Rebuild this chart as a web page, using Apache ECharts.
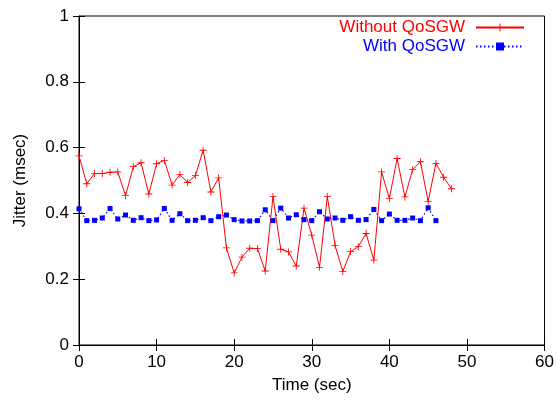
<!DOCTYPE html>
<html>
<head>
<meta charset="utf-8">
<script src="https://cdn.jsdelivr.net/npm/echarts@6/dist/echarts.min.js"></script>
<style>
  html, body { margin: 0; padding: 0; background: #fff; }
  #main { width: 557px; height: 401px; }
</style>
</head>
<body>
<div id="main"></div>
<script>
// values, x in seconds
var withoutQoS = [
    0.575, 0.490, 0.521, 0.521, 0.525, 0.526, 0.454, 0.542, 0.554, 0.459,
    0.551, 0.561, 0.486, 0.518, 0.494, 0.515, 0.592, 0.465, 0.508, 0.295,
    0.219, 0.267, 0.294, 0.293, 0.225, 0.451, 0.291, 0.283, 0.240, 0.416,
    0.334, 0.236, 0.451, 0.303, 0.223, 0.284, 0.299, 0.339, 0.258, 0.526,
    0.445, 0.567, 0.450, 0.533, 0.557, 0.436, 0.552, 0.510, 0.475
];
var withQoS = [
    0.414, 0.378, 0.379, 0.386, 0.415, 0.383, 0.395, 0.379, 0.387, 0.378,
    0.380, 0.415, 0.379, 0.399, 0.378, 0.379, 0.387, 0.378, 0.390, 0.395,
    0.381, 0.377, 0.377, 0.378, 0.411, 0.378, 0.416, 0.386, 0.396, 0.381,
    0.378, 0.405, 0.383, 0.386, 0.379, 0.390, 0.379, 0.381, 0.412, 0.378,
    0.398, 0.379, 0.379, 0.386, 0.378, 0.417, 0.378
];
var xTicks = [0, 10, 20, 30, 40, 50, 60];
var yTicks = [0, 0.2, 0.4, 0.6, 0.8, 1];

function pairs(arr) {
    return arr.map(function (v, i) { return [i, v]; });
}

var FONT = 'Liberation Sans';
var FS = 17;
var plus = 'path://M4.4,0H5.6V4.4H10V5.6H5.6V10H4.4V5.6H0V4.4H4.4Z';

var chart = echarts.init(document.getElementById('main'));

var tickStyle = { show: true, inside: true, length: 6, lineStyle: { color: '#000', width: 1 } };

chart.setOption({
    animation: false,
    textStyle: { fontFamily: FONT },
    grid: {
        left: 79, right: 11, top: 16, bottom: 56,
        show: true, borderColor: '#000', borderWidth: 1, backgroundColor: 'transparent'
    },
    legend: {
        orient: 'vertical',
        align: 'right',
        right: 27,
        top: 14,
        itemWidth: 48,
        itemHeight: 10,
        itemGap: 2,
        textStyle: { fontFamily: FONT, fontSize: FS, padding: [0, 6, 0, 0] },
        data: [
            { name: 'Without QoSGW', textStyle: { color: '#ff0000' } },
            { name: 'With QoSGW', textStyle: { color: '#0000ff' } }
        ]
    },
    xAxis: [{
        type: 'value', min: 0, max: 60, interval: 10,
        name: 'Time (sec)', nameLocation: 'middle', nameGap: 32,
        nameTextStyle: { color: '#000', fontSize: FS, fontFamily: FONT },
        axisLine: { show: true, lineStyle: { color: '#000' } },
        axisTick: tickStyle,
        axisLabel: {
            color: '#000', fontSize: FS, margin: 9,
            formatter: function (v) { return xTicks.indexOf(v) >= 0 ? String(v) : ''; }
        },
        splitLine: { show: false }
    }, {
        type: 'value', min: 0, max: 60, interval: 10, position: 'top',
        axisLine: { show: false }, axisTick: tickStyle,
        axisLabel: { show: false }, splitLine: { show: false }
    }],
    yAxis: [{
        type: 'value', min: 0, max: 1, interval: 0.2,
        name: 'Jitter (msec)', nameLocation: 'middle', nameGap: 50,
        nameTextStyle: { color: '#000', fontSize: FS, fontFamily: FONT },
        axisLine: { show: true, lineStyle: { color: '#000' } },
        axisTick: tickStyle,
        axisLabel: {
            color: '#000', fontSize: FS, margin: 10,
            formatter: function (v) {
                var r = Math.round(v * 10) / 10;
                return yTicks.indexOf(r) >= 0 ? String(r) : '';
            }
        },
        splitLine: { show: false }
    }, {
        type: 'value', min: 0, max: 1, interval: 0.2, position: 'right',
        axisLine: { show: false }, axisTick: tickStyle,
        axisLabel: { show: false }, splitLine: { show: false }
    }],
    series: [{
        name: 'Without QoSGW',
        type: 'line',
        data: pairs(withoutQoS),
        symbol: plus,
        symbolSize: 7,
        showAllSymbol: true,
        color: '#ff0000',
        lineStyle: { color: '#ff0000', width: 1 },
        itemStyle: { color: '#ff0000' }
    }, {
        name: 'With QoSGW',
        type: 'line',
        data: pairs(withQoS),
        symbol: 'rect',
        symbolSize: 5,
        showAllSymbol: true,
        color: '#0000ff',
        lineStyle: { color: '#0000ff', width: 1.2, type: [1.5, 2.5] },
        itemStyle: { color: '#0000ff' }
    }]
});
</script>
</body>
</html>
